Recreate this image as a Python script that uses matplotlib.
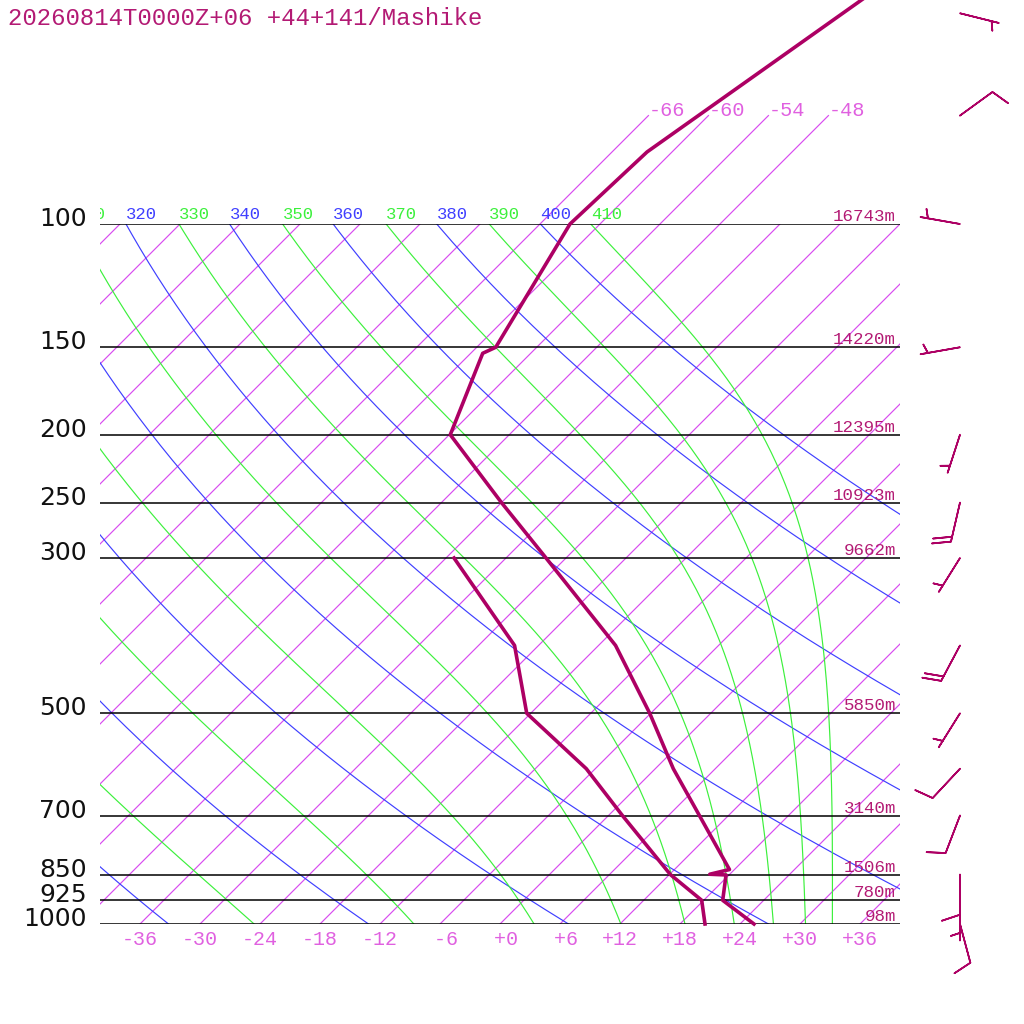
import numpy as np
import matplotlib
matplotlib.use("Agg")
import matplotlib.pyplot as plt
from matplotlib.transforms import Bbox, TransformedBbox, blended_transform_factory

# sounding: temperature
p_temp = [30, 50, 78.9, 100, 150, 153, 200, 250, 300, 400, 500, 600, 700, 836, 849, 851, 925, 1000]
t_temp = [-50.4, -56.8, -62.5, -63.0, -58.1, -58.8, -53.9, -42.0, -32.0, -16.3, -6.1, 1.8, 9.1,
          17.5, 16.0, 17.7, 19.9, 25.4]
# dew point
p_dew = [300, 400, 500, 600, 700, 850, 925, 1000]
t_dew = [-41.2, -26.4, -18.4, -6.9, 1.4, 12.1, 17.8, 20.5]

# wind (direction deg, speed kt)
p_wind = [50, 70, 100, 150, 200, 250, 300, 400, 500, 600, 700, 850, 925, 1000]
wdir = [104, 54, 280, 260, 198, 193, 212, 208, 212, 223, 201, 180, 180, 165]
wspd = [5, 10, 5, 5, 5, 20, 5, 20, 5, 10, 10, 10, 5, 10]

# standard levels and heights
levels = [100, 150, 200, 250, 300, 500, 700, 850, 925, 1000]
heights = [16743, 14220, 12395, 10923, 9662, 5850, 3140, 1506, 780, 98]

title = "20260814T0000Z+06 +44+141/Mashike"

c_prof = "#ad0064"
c_text = "#b31a74"
c_iso = "#d84cf0"
c_isolab = "#e060e0"
c_dry = "#3f3fff"
c_wet = "#3cf03c"
mono = "Liberation Mono"

SKEW = 70.0


def skx(t, p):
    return np.asarray(t, float) + SKEW * np.log10(1000.0 / np.asarray(p, float))


def sat_vp(tk):
    return 6.112 * np.exp(17.67 * (tk - 273.15) / (tk - 29.65))


def theta_e(tk, p):
    e = sat_vp(tk)
    r = 0.622 * e / np.maximum(p - e, 1e-3)
    te = tk * (1000.0 / p) ** (0.2854 * (1 - 0.28 * r)) * \
        np.exp((3.376 / tk - 0.00254) * r * 1000 * (1 + 0.81 * r))
    return np.where(e < 0.5 * p, te, 1e9)


def moist_t(the, p):
    lo = np.full_like(p, 150.0)
    hi = np.full_like(p, 330.0)
    with np.errstate(all="ignore"):
        for _ in range(60):
            mid = 0.5 * (lo + hi)
            big = theta_e(mid, p) > the
            hi = np.where(big, mid, hi)
            lo = np.where(big, lo, mid)
    return 0.5 * (lo + hi) - 273.15


fig = plt.figure(figsize=(10.24, 10.24), dpi=100)
ax = fig.add_axes([100 / 1024, 100 / 1024, 800 / 1024, 700 / 1024])
ax.set_yscale("log")
ax.set_ylim(1000, 100)
ax.set_xlim(-40, 40)
ax.axis("off")

lab_clip = TransformedBbox(Bbox([[0, 0], [1, 2]]), ax.transAxes)


def theta_label(val, x, color):
    # only lines whose label reaches into the frame get one
    if x < -44 or x > 40:
        return
    txt = ax.annotate(str(val), xy=(x, 100), xytext=(0, 5),
                      textcoords="offset pixels", ha="left", va="baseline",
                      color=color, fontsize=12.4, family=mono, annotation_clip=False)
    txt.set_clip_box(lab_clip)
    txt.set_clip_on(True)


# isotherms
for t in np.arange(-120, 37, 6):
    ax.plot(skx([t, t], [1000, 100]), [1000, 100], color=c_iso, lw=0.85)
    if -40 < t < 40:
        ax.annotate(f"{t:+3d}", xy=(t, 1000), xytext=(0, -6), textcoords="offset pixels",
                    ha="center", va="top", color=c_isolab, fontsize=14.4, family=mono,
                    annotation_clip=False)
for t in [-66, -60, -54, -48]:
    ax.plot(skx([t, t], [100, 70]), [100, 70], color=c_iso, lw=0.85, clip_on=False)
    ax.annotate(f"{t:d}", xy=(skx(t, 70), 70), xytext=(0, 0), textcoords="offset pixels",
                ha="left", va="baseline", color=c_isolab, fontsize=14.6, family=mono,
                annotation_clip=False)

pp = np.logspace(3, 2, 200)
# dry adiabats
for th in range(240, 401, 20):
    tt = th * (pp / 1000.0) ** 0.2857 - 273.15
    ax.plot(skx(tt, pp), pp, color=c_dry, lw=0.85)
    theta_label(th, skx(tt[-1], 100), c_dry)
# pseudo adiabats
for the in range(250, 411, 20):
    tt = moist_t(the, pp)
    ax.plot(skx(tt, pp), pp, color=c_wet, lw=0.85)
    theta_label(the, skx(tt[-1], 100), c_wet)

# pressure levels
ax.hlines(levels, -40, 40, color="black", lw=1.1)
for p, h in zip(levels, heights):
    ax.annotate(str(p), xy=(0, p), xycoords=("axes fraction", "data"), xytext=(-13, -2),
                textcoords="offset pixels", ha="right", va="baseline", fontsize=18,
                family="DejaVu Sans", color="#111111", annotation_clip=False)
    ax.annotate(f"{h}m", xy=(1, p), xycoords=("axes fraction", "data"), xytext=(-4, 3),
                textcoords="offset pixels", ha="right", va="baseline", fontsize=12.6,
                family=mono, color=c_text, annotation_clip=False)

# profiles
ax.plot(skx(t_temp, p_temp), p_temp, color=c_prof, lw=2.6, clip_on=False)
ax.plot(skx(t_dew, p_dew), p_dew, color=c_prof, lw=2.6, clip_on=False)

# wind barbs
spd = np.array(wspd, float)
rad = np.radians(wdir)
u = -spd * np.sin(rad)
v = -spd * np.cos(rad)
btrans = blended_transform_factory(ax.transAxes, ax.transData)
ax.barbs(np.full(len(p_wind), 860 / 800), p_wind, u, v, transform=btrans, length=7.6,
         sizes=dict(spacing=0.125, height=0.45, width=0.3), color=c_prof, lw=1.2,
         clip_on=False)

fig.text(8 / 1024, 1 - 25 / 1024, title, ha="left", va="baseline", fontsize=17.3,
         family=mono, color=c_text)

fig.savefig("out.png", dpi=100, facecolor="white")
